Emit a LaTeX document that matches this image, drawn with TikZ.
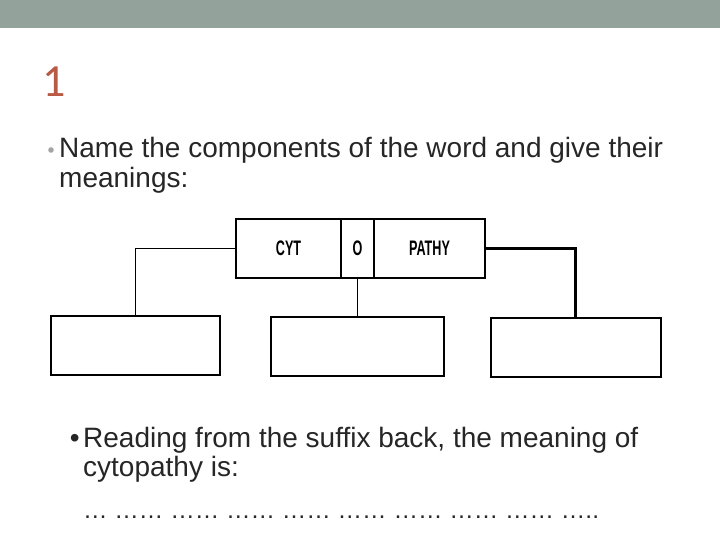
\documentclass[tikz,border=0pt]{standalone}
\usepackage{fontspec}
\setmainfont{Liberation Sans}
\newfontfamily\titlefont{Carlito}
\newfontfamily\wordfont[FakeStretch=0.6]{Liberation Sans}
\definecolor{barcol}{HTML}{93A29A}
\definecolor{titlecol}{HTML}{B85A46}
\definecolor{bulletgray}{HTML}{A4A4A4}
\definecolor{textcol}{HTML}{262626}
\begin{document}
\begin{tikzpicture}[x=1pt,y=-1pt,
  wordpart/.style={draw=black,line width=1.3pt,inner sep=0pt,minimum height=59pt,
    font=\wordfont\bfseries\fontsize{21}{21}\selectfont},
  meanbox/.style={draw=black,line width=2pt,inner sep=0pt,minimum height=59pt},
  conn/.style={draw=black,line width=1.3pt},
  bodytext/.style={anchor=base west,inner sep=0pt,text=textcol,font=\fontsize{28}{30}\selectfont},
  lowtext/.style={anchor=base west,inner sep=0pt,text=textcol,font=\fontsize{28}{30}\selectfont}]
\useasboundingbox (0,0) rectangle (720,540);
\fill[white] (0,0) rectangle (720,540);
\fill[barcol] (0,0) rectangle (720,28);
% title
\node[anchor=base west,inner sep=0pt,text=titlecol,font=\titlefont\fontsize{46}{46}\selectfont] (title) at (42,97) {1};
% first bullet
\fill[bulletgray] (51,150) circle (2.8);
\node[bodytext] (l1) at (59,158) {Name the components of the word and give their};
\node[bodytext] (l2) at (59,188) {meanings:};
% word box
\node[wordpart,minimum width=105pt] (cyt) at (288.5,248.5) {CYT};
\node[wordpart,minimum width=33pt] (o) at (357.5,248.5) {O};
\node[wordpart,minimum width=111pt] (pathy) at (429.5,248.5) {PATHY};
% meaning boxes
\node[meanbox,minimum width=169pt] (lbox) at (135.5,345) {};
\node[meanbox,minimum width=173pt] (mbox) at (357.5,346) {};
\node[meanbox,minimum width=170pt] (rbox) at (575.5,347) {};
% connectors
\draw[conn] (cyt.west) -| (lbox.north);
\draw[conn] (o.south) -- (mbox.north);
\draw[conn,line width=2.2pt] (pathy.east) -| (rbox.north);
% second bullet
\node[lowtext,anchor=base east] (b2) at (80,447) {•};
\node[lowtext] (l3) at (83,447) {Reading from the suffix back, the meaning of};
\node[lowtext] (l4) at (83,476) {cytopathy is:};
\node[lowtext,font=\fontsize{24.5}{29}\selectfont] (l5) at (83,518) {… …… …… …… …… …… …… …… …… …..};
\end{tikzpicture}
\end{document}
